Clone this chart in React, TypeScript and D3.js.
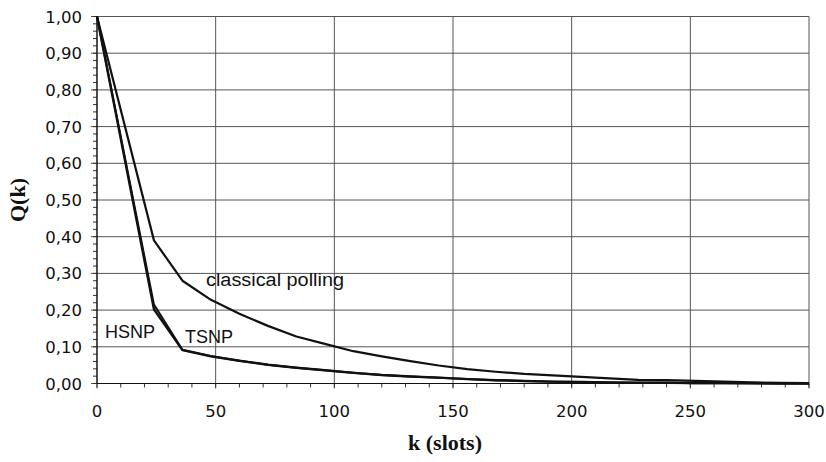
import React from 'react';
import * as d3 from 'd3';

// slot numbers where the curves have points
const kValues = [0, 24, 36, 48, 60, 72, 84, 96, 108, 120, 132, 144, 156, 168, 180, 192, 204, 216, 228, 240, 252, 264, 276, 288, 300];

const classicalPolling = [1.0, 0.39, 0.28, 0.228, 0.19, 0.157, 0.128, 0.108, 0.088, 0.074, 0.061, 0.049, 0.039, 0.032, 0.026, 0.022, 0.018, 0.014, 0.010, 0.009, 0.007, 0.005, 0.003, 0.002, 0.001];
const hsnp = [1.0, 0.202, 0.091, 0.074, 0.062, 0.051, 0.043, 0.036, 0.029, 0.023, 0.019, 0.016, 0.012, 0.009, 0.007, 0.005, 0.004, 0.003, 0.002, 0.002, 0.001, 0.001, 0.0005, 0, 0];
const tsnp = [1.0, 0.215, 0.092, 0.075, 0.062, 0.051, 0.043, 0.036, 0.029, 0.023, 0.019, 0.016, 0.012, 0.009, 0.007, 0.005, 0.004, 0.003, 0.002, 0.002, 0.001, 0.001, 0.0005, 0, 0];

const xTicks = [0, 50, 100, 150, 200, 250, 300];
const yTicks = [0, 0.1, 0.2, 0.3, 0.4, 0.5, 0.6, 0.7, 0.8, 0.9, 1.0];

const width = 826;
const height = 462;
const margin = { top: 16.5, right: 17, bottom: 78.5, left: 97 };

const App = () => {
  const x = d3.scaleLinear().domain([0, 300]).range([margin.left, width - margin.right]);
  const y = d3.scaleLinear().domain([0, 1]).range([height - margin.bottom, margin.top]);

  const line = d3.line<number>()
    .x((_, i) => x(kValues[i]))
    .y(d => y(d));

  const minorX = d3.range(0, 301, 10);
  const minorY = d3.range(0, 1.001, 0.02);
  const fmt = (v: number) => v.toFixed(2).replace('.', ',');

  return (
    <svg width={width} height={height} style={{ position: 'absolute', left: 0, top: 0, background: '#fff' }}>
      {/* grid */}
      <g stroke="#555" strokeWidth={1}>
        {yTicks.map(t => (
          <line key={'gy' + t} x1={x(0) - 6} x2={x(300)} y1={y(t)} y2={y(t)} />
        ))}
        {xTicks.map(t => (
          <line key={'gx' + t} x1={x(t)} x2={x(t)} y1={y(1)} y2={y(0) + 5} />
        ))}
      </g>
      {/* minor ticks */}
      <g stroke="#333" strokeWidth={1}>
        {minorY.map(t => (
          <line key={'my' + t} x1={x(0) - 4} x2={x(0)} y1={y(t)} y2={y(t)} />
        ))}
        {minorX.map(t => (
          <line key={'mx' + t} x1={x(t)} x2={x(t)} y1={y(0)} y2={y(0) + 4} />
        ))}
      </g>
      <line x1={x(0)} x2={x(0)} y1={y(1)} y2={y(0)} stroke="#111" strokeWidth={1.2} />
      <line x1={x(0)} x2={x(300)} y1={y(0)} y2={y(0)} stroke="#111" strokeWidth={1.2} />

      {/* tick labels */}
      <g fontFamily="DejaVu Sans" fontSize={16.5} fill="#111">
        {yTicks.map(t => (
          <text key={'ly' + t} x={82} y={y(t) + 6} textAnchor="end">{fmt(t)}</text>
        ))}
        {xTicks.map(t => (
          <text key={'lx' + t} x={x(t)} y={417} textAnchor="middle">{t}</text>
        ))}
      </g>

      {/* curves */}
      <g fill="none" stroke="#111" strokeLinejoin="round">
        <path d={line(classicalPolling) || ''} strokeWidth={2.2} />
        <path d={line(hsnp) || ''} strokeWidth={2.4} />
        <path d={line(tsnp) || ''} strokeWidth={2} />
      </g>

      {/* series labels */}
      <g fontFamily="Liberation Sans, Arial" fontSize={18} fill="#111">
        <text x={206} y={286} textLength={138} lengthAdjust="spacingAndGlyphs">classical polling</text>
        <text x={105} y={338}>HSNP</text>
        <text x={185} y={343}>TSNP</text>
      </g>

      {/* axis titles */}
      <text x={445} y={450} textAnchor="middle" fontFamily="Liberation Serif, Times New Roman" fontWeight="bold" fontSize={22} fill="#111">k (slots)</text>
      <text transform="translate(25,200) rotate(-90)" textAnchor="middle" fontFamily="Liberation Serif, Times New Roman" fontWeight="bold" fontSize={22} fill="#111">Q(k)</text>
    </svg>
  );
};

export default App;
